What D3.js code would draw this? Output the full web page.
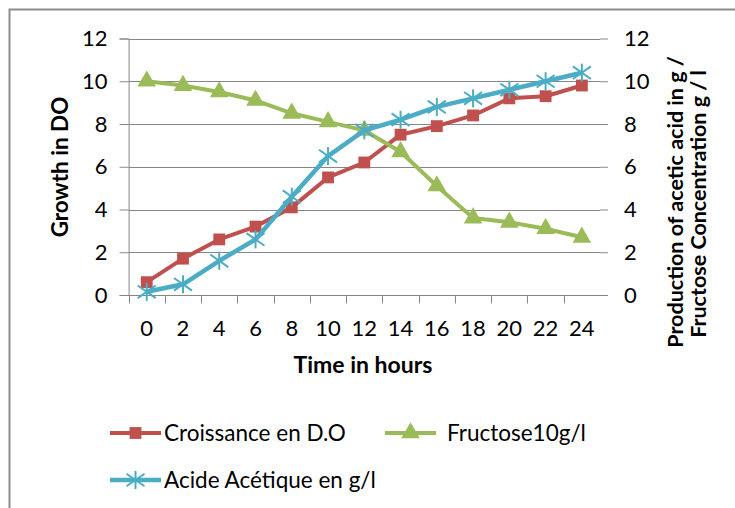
<!DOCTYPE html>
<html>
<head>
<meta charset="utf-8">
<script src="https://cdn.jsdelivr.net/npm/d3@7"></script>
<style>
  body { margin: 0; background: #fff; }
  text { font-family: Lato, "Open Sans", sans-serif; fill: #000; }
</style>
</head>
<body>
<div id="chart"></div>
<script>
const svgWidth = 735;
const svgHeight = 508;

// data
const hours = ["0", "2", "4", "6", "8", "10", "12", "14", "16", "18", "20", "22", "24"];
const yTicks = [0, 2, 4, 6, 8, 10, 12];
const croissance = [0.6, 1.7, 2.6, 3.2, 4.1, 5.5, 6.2, 7.5, 7.9, 8.4, 9.2, 9.3, 9.8];
const fructose = [10.0, 9.8, 9.5, 9.1, 8.5, 8.1, 7.7, 6.7, 5.1, 3.6, 3.4, 3.1, 2.7];
const acide = [0.15, 0.5, 1.6, 2.6, 4.6, 6.5, 7.7, 8.2, 8.8, 9.2, 9.6, 10.0, 10.4];
const seriesNames = ["Croissance en D.O", "Fructose10g/l", "Acide Acétique en g/l"];

const plot = { left: 128.6, right: 600, top: 38.5, bottom: 295 };
const gridColor = "#868686";

const svg = d3.select("#chart")
  .append("svg")
  .attr("width", svgWidth)
  .attr("height", svgHeight);

// outer frame (cut by the window on the right and bottom)
svg.append("rect")
  .attr("x", 9.5).attr("y", 9.5)
  .attr("width", 740).attr("height", 520)
  .attr("fill", "none")
  .attr("stroke", "#8c8c8c")
  .attr("stroke-width", 2);

const x = d3.scaleBand()
  .domain(hours)
  .range([plot.left, plot.right]);

const y = d3.scaleLinear()
  .domain([0, 12])
  .range([plot.bottom, plot.top]);

// horizontal gridlines
svg.append("g")
  .selectAll("line")
  .data(yTicks)
  .enter()
  .append("line")
  .attr("x1", plot.left)
  .attr("x2", plot.right)
  .attr("y1", d => Math.round(y(d)) + 0.5)
  .attr("y2", d => Math.round(y(d)) + 0.5)
  .attr("stroke", gridColor)
  .attr("stroke-width", 1);

// left axis
const leftAxis = svg.append("g")
  .attr("transform", `translate(${plot.left}, 0)`)
  .call(d3.axisLeft(y).tickValues(yTicks).tickSize(9).tickPadding(12));
leftAxis.select(".domain").attr("stroke", gridColor);
leftAxis.selectAll(".tick line").attr("stroke", gridColor);
leftAxis.selectAll(".tick text").attr("font-size", 22);

// right axis, ticks only
const rightAxis = svg.append("g")
  .attr("transform", `translate(${plot.right}, 0)`)
  .call(d3.axisRight(y).tickValues(yTicks).tickSize(8).tickPadding(16));
rightAxis.select(".domain").remove();
rightAxis.selectAll(".tick line").attr("stroke", gridColor);
rightAxis.selectAll(".tick text").attr("font-size", 22);

// bottom category axis
const bottom = svg.append("g")
  .attr("transform", `translate(0, ${Math.round(plot.bottom) + 0.5})`);
bottom.append("line")
  .attr("x1", plot.left).attr("x2", plot.right)
  .attr("stroke", gridColor);
bottom.selectAll(".cat-tick")
  .data(hours)
  .enter()
  .append("line")
  .attr("class", "cat-tick")
  .attr("x1", d => Math.round(x(d)) + 0.5)
  .attr("x2", d => Math.round(x(d)) + 0.5)
  .attr("y1", 0)
  .attr("y2", 8)
  .attr("stroke", gridColor);
bottom.selectAll(".cat-label")
  .data(hours)
  .enter()
  .append("text")
  .attr("class", "cat-label")
  .attr("x", d => x(d) + x.bandwidth() / 2)
  .attr("y", 40)
  .attr("text-anchor", "middle")
  .attr("font-size", 22)
  .text(d => d);

// axis titles
svg.append("text")
  .attr("x", 363)
  .attr("y", 373)
  .attr("text-anchor", "middle")
  .attr("font-size", 23)
  .attr("font-weight", "bold")
  .text("Time in hours");

svg.append("text")
  .attr("transform", "translate(68, 167) rotate(-90)")
  .attr("text-anchor", "middle")
  .attr("font-size", 22.5)
  .attr("font-weight", "bold")
  .text("Growth in DO");

svg.append("text")
  .attr("transform", "translate(683, 202) rotate(-90)")
  .attr("text-anchor", "middle")
  .attr("font-size", 21.5)
  .attr("font-weight", "bold")
  .text("Production of acetic acid in g /");

svg.append("text")
  .attr("transform", "translate(706, 204) rotate(-90)")
  .attr("text-anchor", "middle")
  .attr("font-size", 21.5)
  .attr("font-weight", "bold")
  .text("Fructose Concentration g / l");

// series
const series = [
  { name: seriesNames[0], values: croissance, color: "#C0504D", marker: "square", width: 4 },
  { name: seriesNames[1], values: fructose, color: "#9BBB59", marker: "triangle", width: 4 },
  { name: seriesNames[2], values: acide, color: "#4BACC6", marker: "star", width: 4.5 }
];

const cx = i => x(hours[i]) + x.bandwidth() / 2;

const line = d3.line()
  .x((d, i) => cx(i))
  .y(d => y(d));

function drawMarker(g, type, color) {
  if (type === "square") {
    g.append("path")
      .attr("d", d3.symbol(d3.symbolSquare, 140)())
      .attr("fill", color);
  } else if (type === "triangle") {
    g.append("path")
      .attr("d", d3.symbol(d3.symbolTriangle, 150)())
      .attr("fill", color);
  } else {
    const r = 9;
    const arms = [[0, -r, 0, r], [-r, -r * 0.7, r, r * 0.7], [-r, r * 0.7, r, -r * 0.7]];
    g.selectAll("line")
      .data(arms)
      .enter()
      .append("line")
      .attr("x1", d => d[0]).attr("y1", d => d[1])
      .attr("x2", d => d[2]).attr("y2", d => d[3])
      .attr("stroke", color)
      .attr("stroke-width", 2);
  }
}

series.forEach(s => {
  svg.append("path")
    .datum(s.values)
    .attr("d", line)
    .attr("fill", "none")
    .attr("stroke", s.color)
    .attr("stroke-width", s.width)
    .attr("stroke-linejoin", "round");

  s.values.forEach((v, i) => {
    const g = svg.append("g")
      .attr("transform", `translate(${cx(i)}, ${y(v)})`);
    drawMarker(g, s.marker, s.color);
  });
});

// legend
const legendItems = [
  { s: series[0], x: 110, y: 433 },
  { s: series[1], x: 385, y: 433 },
  { s: series[2], x: 110, y: 480 }
];

legendItems.forEach(item => {
  const g = svg.append("g")
    .attr("transform", `translate(${item.x}, ${item.y})`);
  g.append("line")
    .attr("x1", 0).attr("x2", 51)
    .attr("stroke", item.s.color)
    .attr("stroke-width", item.s.width);
  const m = g.append("g").attr("transform", "translate(25.5, 0)");
  drawMarker(m, item.s.marker, item.s.color);
  g.append("text")
    .attr("x", item.s.marker === "triangle" ? 62 : 54)
    .attr("y", 7.5)
    .attr("font-size", 22.5)
    .text(item.s.name);
});
</script>
</body>
</html>
